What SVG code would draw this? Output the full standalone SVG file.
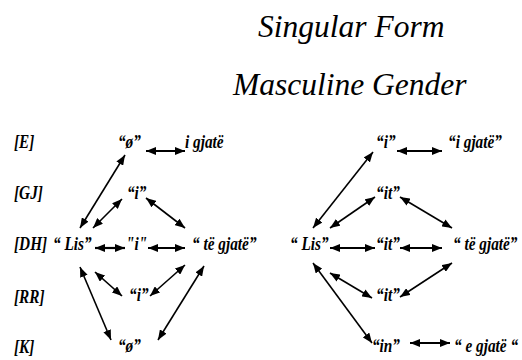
<svg xmlns="http://www.w3.org/2000/svg" width="522" height="360" viewBox="0 0 522 360">
<defs>
<marker id="ah" markerUnits="userSpaceOnUse" viewBox="0 0 10 8" refX="10" refY="4" markerWidth="10" markerHeight="8" orient="auto-start-reverse">
<path d="M0,0 L10,4 L0,8 Z" fill="#000"/>
</marker>
</defs>
<rect width="522" height="360" fill="#fff"/>
<text x="258" y="37" style="font-family:'Liberation Serif',serif;font-style:italic" font-size="31.5">Singular Form</text>
<text x="233" y="95" style="font-family:'Liberation Serif',serif;font-style:italic" font-size="31.5">Masculine Gender</text>
<g id="row-labels">
<text x="16.5" y="148" transform="scale(0.85,1)" style="font-family:'Liberation Serif',serif;font-style:italic;font-weight:bold" font-size="18">[E]</text>
<text x="16.5" y="199" transform="scale(0.85,1)" style="font-family:'Liberation Serif',serif;font-style:italic;font-weight:bold" font-size="18">[GJ]</text>
<text x="16.5" y="250" transform="scale(0.85,1)" style="font-family:'Liberation Serif',serif;font-style:italic;font-weight:bold" font-size="18">[DH]</text>
<text x="16.5" y="303" transform="scale(0.85,1)" style="font-family:'Liberation Serif',serif;font-style:italic;font-weight:bold" font-size="18">[RR]</text>
<text x="16.5" y="353" transform="scale(0.85,1)" style="font-family:'Liberation Serif',serif;font-style:italic;font-weight:bold" font-size="18">[K]</text>
</g>
<g id="left-lis"><text x="62.4" y="250" transform="scale(0.85,1)" style="font-family:'Liberation Serif',serif;font-style:italic;font-weight:bold" font-size="18">“ Lis”</text></g>
<g id="left-e-o"><text x="138.8" y="148" transform="scale(0.85,1)" style="font-family:'Liberation Serif',serif;font-style:italic;font-weight:bold" font-size="18">“ø”</text></g>
<g id="left-e-igjate"><text x="217.6" y="148" transform="scale(0.85,1)" style="font-family:'Liberation Serif',serif;font-style:italic;font-weight:bold" font-size="18">i gjatë</text></g>
<g id="left-gj-i"><text x="149.4" y="199" transform="scale(0.85,1)" style="font-family:'Liberation Serif',serif;font-style:italic;font-weight:bold" font-size="18">“i”</text></g>
<g id="left-dh-i"><text x="148.2" y="250" transform="scale(0.85,1)" style="font-family:'Liberation Serif',serif;font-style:italic;font-weight:bold" font-size="18">"i"</text></g>
<g id="left-tegjate"><text x="225.9" y="250" transform="scale(0.85,1)" style="font-family:'Liberation Serif',serif;font-style:italic;font-weight:bold" font-size="18">“ të gjatë”</text></g>
<g id="left-rr-i"><text x="151.8" y="301" transform="scale(0.85,1)" style="font-family:'Liberation Serif',serif;font-style:italic;font-weight:bold" font-size="18">“i”</text></g>
<g id="left-k-o"><text x="138.8" y="352" transform="scale(0.85,1)" style="font-family:'Liberation Serif',serif;font-style:italic;font-weight:bold" font-size="18">“ø”</text></g>
<g id="right-e-i"><text x="442.4" y="148" transform="scale(0.85,1)" style="font-family:'Liberation Serif',serif;font-style:italic;font-weight:bold" font-size="18">“i”</text></g>
<g id="right-e-igjate"><text x="527.1" y="148" transform="scale(0.85,1)" style="font-family:'Liberation Serif',serif;font-style:italic;font-weight:bold" font-size="18">“i gjatë”</text></g>
<g id="right-gj-it"><text x="442.4" y="199" transform="scale(0.85,1)" style="font-family:'Liberation Serif',serif;font-style:italic;font-weight:bold" font-size="18">“it”</text></g>
<g id="right-lis"><text x="341.2" y="250" transform="scale(0.85,1)" style="font-family:'Liberation Serif',serif;font-style:italic;font-weight:bold" font-size="18">“ Lis”</text></g>
<g id="right-dh-it"><text x="442.4" y="250" transform="scale(0.85,1)" style="font-family:'Liberation Serif',serif;font-style:italic;font-weight:bold" font-size="18">“it”</text></g>
<g id="right-tegjate"><text x="532.9" y="250" transform="scale(0.85,1)" style="font-family:'Liberation Serif',serif;font-style:italic;font-weight:bold" font-size="18">“ të gjatë”</text></g>
<g id="right-rr-it"><text x="442.4" y="301" transform="scale(0.85,1)" style="font-family:'Liberation Serif',serif;font-style:italic;font-weight:bold" font-size="18">“it”</text></g>
<g id="right-k-in"><text x="437.6" y="352" transform="scale(0.85,1)" style="font-family:'Liberation Serif',serif;font-style:italic;font-weight:bold" font-size="18">“in”</text></g>
<g id="right-k-egjate"><text x="534.1" y="352" transform="scale(0.85,1)" style="font-family:'Liberation Serif',serif;font-style:italic;font-weight:bold" font-size="18">“ e gjatë “</text></g>
<g id="connectors" fill="none" stroke="#000" stroke-width="1.6" marker-start="url(#ah)" marker-end="url(#ah)">
<line x1="80" y1="228" x2="125" y2="155"/>
<line x1="93" y1="228" x2="122" y2="199"/>
<line stroke-width="2.2" x1="95" y1="248" x2="125" y2="248"/>
<line x1="95" y1="272" x2="122" y2="296"/>
<line x1="80" y1="267" x2="111" y2="340"/>
<line x1="146" y1="198" x2="185" y2="228"/>
<line stroke-width="2.2" x1="148" y1="248" x2="185" y2="248"/>
<line x1="150" y1="296" x2="185" y2="265"/>
<line x1="204" y1="266" x2="158" y2="340"/>
<line stroke-width="2.2" x1="146" y1="151" x2="185" y2="151"/>
<line x1="313" y1="228" x2="373" y2="152"/>
<line x1="330" y1="228" x2="375" y2="197"/>
<line stroke-width="2.2" x1="330" y1="248" x2="375" y2="248"/>
<line x1="330" y1="273" x2="372" y2="298"/>
<line x1="313" y1="263" x2="372" y2="343"/>
<line x1="400" y1="197" x2="452" y2="228"/>
<line stroke-width="2.2" x1="400" y1="248" x2="442" y2="248"/>
<line x1="400" y1="297" x2="452" y2="263"/>
<line stroke-width="2.2" x1="410" y1="343" x2="450" y2="343"/>
<line stroke-width="2.2" x1="397" y1="151" x2="442" y2="151"/>
</g>
</svg>
